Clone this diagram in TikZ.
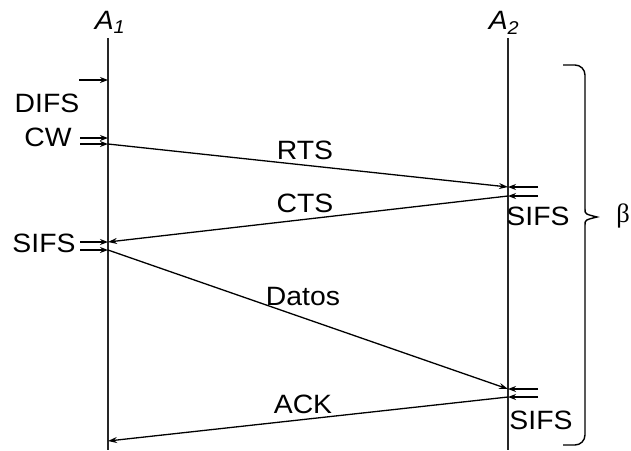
\documentclass[tikz,border=0pt]{standalone}
\usepackage{fontspec}
\setmainfont{Liberation Sans}[FakeStretch=1.07]
\newfontfamily\greekfont{Liberation Serif}
\usetikzlibrary{arrows.meta}
\begin{document}
\begin{tikzpicture}[x=1pt,y=-1pt,
  lbl/.style={inner sep=0pt, font=\fontsize{26.5}{30}\selectfont},
  station/.style={draw=black!85, line width=1.5pt},
  msg/.style={draw, line width=1.3pt, -{Stealth[length=9pt,width=6pt]}},
  tick/.style={draw, line width=1.3pt, -{Stealth[length=8pt,width=6pt]}},
  bracket/.style={draw, line width=1.4pt, rounded corners=10pt}]
\useasboundingbox (0,0) rectangle (631,450);
% station headers
\node[lbl] (a1) at (110,22) {\textit{A}\textsubscript{\textit{1}}};
\node[lbl] (a2) at (504,23) {\textit{A}\textsubscript{\textit{2}}};
% time axes
\coordinate (a1top) at (108,38);  \coordinate (a1bot) at (108,450);
\coordinate (a2top) at (508,38);  \coordinate (a2bot) at (508,450);
\draw[station] (a1top) -- (a1bot);
\draw[station] (a2top) -- (a2bot);
% event points on A1
\coordinate (p0) at (108,80);
\coordinate (p1a) at (108,138);  \coordinate (p1b) at (108,144);
\coordinate (p2a) at (108,242);  \coordinate (p2b) at (108,250);
\coordinate (p3) at (108,441);
% event points on A2
\coordinate (q1a) at (508,187);  \coordinate (q1b) at (508,196);
\coordinate (q2a) at (508,389);  \coordinate (q2b) at (508,397);
% interval markers
\coordinate (d0) at (79,80);
\coordinate (c1a) at (80,138);   \coordinate (c1b) at (80,144);
\coordinate (s1a) at (80,242);   \coordinate (s1b) at (80,250);
\coordinate (r1a) at (538,187);  \coordinate (r1b) at (538,196);
\coordinate (r2a) at (538,389);  \coordinate (r2b) at (538,397);
\draw[tick] (d0) -- (p0);
\draw[tick] (c1a) -- (p1a);  \draw[tick] (c1b) -- (p1b);
\draw[tick] (s1a) -- (p2a);  \draw[tick] (s1b) -- (p2b);
\draw[tick] (r1a) -- (q1a);  \draw[tick] (r1b) -- (q1b);
\draw[tick] (r2a) -- (q2a);  \draw[tick] (r2b) -- (q2b);
% frames
\draw[msg] (p1b) -- (q1a);
\draw[msg] (q1b) -- (p2a);
\draw[msg] (p2b) -- (q2a);
\draw[msg] (q2b) -- (p3);
% labels
\node[lbl] (difs) at (47,103) {DIFS};
\node[lbl] (cw) at (48,137) {CW};
\node[lbl] (sifs1) at (44,243) {SIFS};
\node[lbl] (sifs2) at (538,216) {SIFS};
\node[lbl] (sifs3) at (541,420) {SIFS};
\node[lbl] (rts) at (305,150) {RTS};
\node[lbl] (cts) at (305,203) {CTS};
\node[lbl] (datos) at (303,297) {Datos};
\node[lbl] (ack) at (303,404) {ACK};
% brace over the whole exchange
\coordinate (b0) at (563,65);
\coordinate (b1) at (585,65);
\coordinate (b2) at (585,209);
\coordinate (tip) at (597,217);
\coordinate (b3) at (585,225);
\coordinate (b4) at (585,445);
\coordinate (b5) at (563,445);
\draw[bracket] (b0) -- (b1) -- (b2);
\draw[line width=1.4pt] (b2) .. controls (585,214) .. (tip) .. controls (585,220) .. (b3);
\draw[bracket] (b3) -- (b4) -- (b5);
\node[lbl] (beta) at (623,216) {\greekfont β};
\end{tikzpicture}
\end{document}
